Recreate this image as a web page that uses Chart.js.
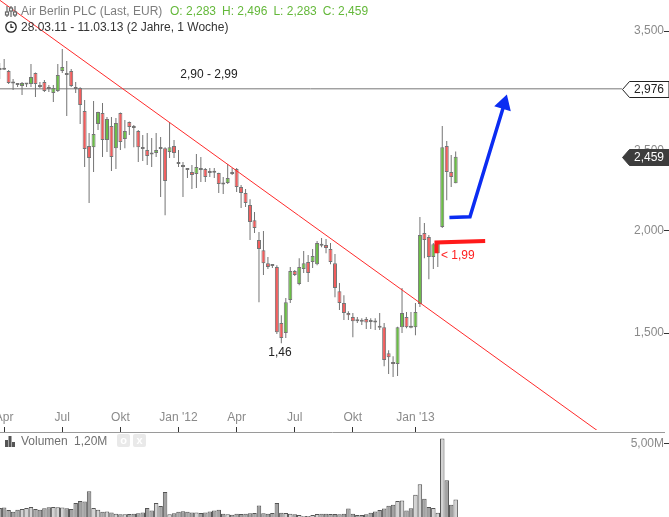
<!DOCTYPE html>
<html>
<head>
<meta charset="utf-8">
<title>Air Berlin PLC</title>
<script src="https://cdn.jsdelivr.net/npm/chart.js@4.4.1/dist/chart.umd.min.js"></script>
<style>
  body { margin: 0; background: #fff; }
  #wrap { position: relative; width: 669px; height: 517px; overflow: hidden;
          font-family: "Liberation Sans", Arial, sans-serif; font-size: 12px; }
  #volumeChart { position: absolute; left: 0; top: 408px; }
  #priceChart { position: absolute; left: 0; top: 0; }
  .row { position: absolute; left: 0; height: 14px; line-height: 14px; white-space: nowrap; width: 669px; }
  .row svg { position: absolute; left: 0; top: 0; }
  .row span { position: absolute; }
  .ohlc b { font-weight: normal; margin-right: 6px; }
  .btn { width: 13px; height: 13px; top: 0; border-radius: 2px; background: #e9e9e9; color: #fff;
         font-size: 11px; line-height: 13px; text-align: center; font-weight: bold; }
</style>
</head>
<body>
<div id="wrap">
  <canvas id="volumeChart" width="669" height="109"></canvas>
  <canvas id="priceChart" width="669" height="430"></canvas>

  <div class="row" style="top:4px">
    <svg width="18" height="14" viewBox="0 0 18 14">
      <g stroke="#666" stroke-width="1.2" fill="#fff">
        <line x1="7" y1="2" x2="7" y2="13"/><line x1="11" y1="2" x2="11" y2="13"/><line x1="15" y1="2" x2="15" y2="13"/>
        <rect x="5.5" y="8" width="3" height="3"/><rect x="9.5" y="4" width="3" height="3"/><rect x="13.5" y="8" width="3" height="3"/>
      </g>
    </svg>
    <span style="left:21px;color:#7d7d7d">Air Berlin PLC (Last, EUR)</span>
    <span id="ohlc" class="ohlc" style="left:170px;color:#64b83a"></span>
  </div>
  <div class="row" style="top:20px">
    <svg width="18" height="14" viewBox="0 0 18 14">
      <circle cx="11" cy="7" r="5.2" fill="none" stroke="#222" stroke-width="1.3"/>
      <path d="M11 4 V7.3 H13.5" fill="none" stroke="#222" stroke-width="1.2"/>
    </svg>
    <span style="left:21px;color:#333">28.03.11 - 11.03.13 (2 Jahre, 1 Woche)</span>
  </div>
  <div class="row" style="top:434px">
    <svg width="18" height="14" viewBox="0 0 18 14">
      <g fill="#555"><rect x="5" y="6" width="3" height="7"/><rect x="8.5" y="2" width="3" height="11"/><rect x="12" y="8" width="3" height="5"/></g>
    </svg>
    <span style="left:21px;color:#707070">Volumen</span>
    <span id="lastVolume" style="left:74px;color:#707070"></span>
    <span class="btn" style="left:117px">o</span>
    <span class="btn" style="left:133px">x</span>
  </div>
</div>

<script>
Chart.defaults.font.family = '"Liberation Sans", Arial, sans-serif';
Chart.defaults.font.size = 12;

// weekly candles 28.03.11 - 11.03.13, index 0 = week of 28.03.11
const opens = [3.155,3.150,3.128,3.033,3.016,3.000,3.012,3.016,3.111,2.995,
    3.033,2.983,2.941,2.957,3.128,3.111,3.128,2.991,2.983,2.796,
    2.535,2.527,2.696,2.781,2.578,2.681,2.520,2.781,2.585,2.711,
    2.673,2.644,2.527,2.506,2.485,2.485,2.520,2.520,2.492,2.535,
    2.424,2.403,2.377,2.357,2.344,2.383,2.377,2.357,2.357,2.350,
    2.285,2.285,2.350,2.377,2.259,2.222,2.148,2.059,1.947,1.893,
    1.825,1.815,1.805,1.543,1.500,1.646,1.785,1.721,1.795,1.831,
    1.831,1.820,1.925,1.920,1.899,1.825,1.687,1.632,1.587,1.569,
    1.558,1.556,1.560,1.551,1.551,1.530,1.525,1.418,1.383,1.375,
    1.525,1.569,1.530,1.525,1.627,1.986,1.964,1.857,1.877,2.020,
    2.535,2.357,2.283];
const highs = [3.199,3.235,3.137,3.059,3.025,3.033,3.025,3.190,3.115,3.033,
    3.050,3.008,3.008,3.190,3.328,3.218,3.146,3.033,2.990,2.884,
    2.629,2.876,2.790,2.860,2.750,2.750,2.742,2.785,2.727,2.715,
    2.689,2.651,2.614,2.629,2.592,2.629,2.600,2.527,2.711,2.578,
    2.506,2.424,2.383,2.403,2.478,2.458,2.383,2.383,2.383,2.352,
    2.324,2.410,2.383,2.383,2.272,2.247,2.184,2.106,1.992,1.997,
    1.857,1.820,1.815,1.577,1.655,1.805,1.790,1.851,1.888,1.867,
    1.899,1.942,1.958,1.953,1.931,1.872,1.726,1.668,1.595,1.587,
    1.569,1.564,1.569,1.564,1.564,1.587,1.543,1.430,1.406,1.527,
    1.702,1.591,1.591,1.632,2.077,2.042,1.975,1.931,1.942,2.681,
    2.571,2.472,2.496];
const lows = [3.059,3.137,3.016,2.966,2.991,2.925,2.991,2.991,2.908,2.983,
    2.949,2.949,2.868,2.949,3.111,2.757,2.991,2.941,2.696,2.390,
    2.160,2.357,2.651,2.458,2.492,2.364,2.377,2.506,2.520,2.614,
    2.527,2.424,2.430,2.403,2.390,2.458,2.197,2.088,2.451,2.451,
    2.390,2.197,2.317,2.247,2.253,2.291,2.291,2.324,2.317,2.222,
    2.215,2.278,2.337,2.228,2.130,2.136,1.947,1.986,1.636,1.765,
    1.795,1.800,1.496,1.458,1.479,1.632,1.760,1.716,1.775,1.731,
    1.800,1.815,1.909,1.877,1.820,1.659,1.600,1.556,1.556,1.483,
    1.543,1.534,1.517,1.517,1.513,1.513,1.367,1.337,1.326,1.330,
    1.500,1.521,1.521,1.491,1.614,1.851,1.745,1.795,1.805,2.014,
    2.178,2.259,2.283];
const closes = [3.137,3.140,3.025,3.021,3.008,3.025,3.016,3.076,3.016,2.991,
    2.957,2.974,2.983,3.093,3.164,3.093,3.000,2.974,2.844,2.513,
    2.451,2.622,2.788,2.578,2.734,2.458,2.704,2.563,2.644,2.673,
    2.666,2.527,2.513,2.465,2.475,2.506,2.513,2.298,2.527,2.485,
    2.410,2.390,2.370,2.337,2.390,2.370,2.324,2.350,2.352,2.278,
    2.275,2.317,2.344,2.259,2.222,2.160,2.048,2.014,1.899,1.825,
    1.805,1.810,1.504,1.479,1.636,1.785,1.765,1.805,1.825,1.775,
    1.862,1.931,1.917,1.904,1.831,1.702,1.632,1.587,1.577,1.551,
    1.551,1.549,1.545,1.547,1.545,1.523,1.391,1.402,1.375,1.525,
    1.587,1.525,1.523,1.591,1.975,1.947,1.857,1.925,1.936,2.527,
    2.357,2.324,2.459];
// weekly volume in millions
const volumes = [0.62,0.64,0.47,0.35,0.50,0.55,0.62,0.69,0.55,0.50,
    0.60,0.66,0.69,0.66,0.64,0.60,0.55,0.96,1.09,1.05,
    1.75,0.62,0.50,0.35,0.38,0.30,0.22,0.18,0.18,0.20,
    0.22,0.25,0.30,0.62,0.45,0.96,0.75,1.71,0.18,0.25,
    0.35,0.40,0.35,0.30,0.30,0.28,0.30,0.38,0.45,0.50,
    0.22,0.18,0.15,0.22,0.20,0.22,0.25,0.28,0.78,0.25,
    0.22,0.28,0.96,0.29,0.27,0.22,0.18,0.13,0.07,0.07,
    0.13,0.20,0.22,0.22,0.20,0.20,0.18,0.22,0.58,0.22,
    0.13,0.13,0.18,0.29,0.38,0.47,0.58,0.76,0.84,1.09,
    1.13,0.45,0.60,1.51,2.24,1.24,0.69,0.62,0.29,5.36,
    2.51,0.84,1.20];

const monthTicks = [1, 14, 27, 40, 53, 66, 79, 93];
const monthLabels = ['Apr', 'Jul', 'Okt', "Jan '12", 'Apr', 'Jul', 'Okt', "Jan '13"];
const priceTicks = [1.5, 2.0, 2.5, 3.5];
const volumeTicks = [5];

// drawings on the chart, in week index / price units
const resistance = 2.976;
const rangeLabel = '2,90 - 2,99';
const trendLine = [{x: -2, y: 3.886}, {x: 136, y: 1.1175}];
const supportMark = [{x: 97.7, y: 1.877}, {x: 97.7, y: 1.934}, {x: 108.6, y: 1.942}];
const targetArrow = [{x: 100.6, y: 2.074}, {x: 105.2, y: 2.079}, {x: 112.6, y: 2.82}];
const arrowHead = [{x: 112.8, y: 2.852}];

const xMin = 0.07, xMax = 148.6;
const upColor = '#6abd45', downColor = '#f25c5c', wickColor = '#747474';
const last = closes.length - 1;

function fmt(v, d)
{
    return v.toFixed(d).replace('.', ',');
}

function noPadding(scale)
{
    scale.paddingTop = 0;
    scale.paddingBottom = 0;
    scale.paddingLeft = 0;
    scale.paddingRight = 0;
}

function drawTag(ctx, chart, value, fill, stroke, textColor)
{
    const y = Math.round(chart.scales.y.getPixelForValue(value)) + 0.5;
    const right = chart.width;
    ctx.beginPath();
    ctx.moveTo(622.5, y);
    ctx.lineTo(629.5, y - 8);
    ctx.lineTo(right, y - 8);
    ctx.lineTo(right, y + 8);
    ctx.lineTo(629.5, y + 8);
    ctx.closePath();
    ctx.fillStyle = fill;
    ctx.fill();
    ctx.strokeStyle = stroke;
    ctx.lineWidth = 1;
    ctx.stroke();
    ctx.fillStyle = textColor;
    ctx.textAlign = 'right';
    ctx.textBaseline = 'middle';
    ctx.fillText(fmt(value, 3), 664, y);
}

const notesPlugin = {
    id: 'notes',
    afterDatasetsDraw(chart) {
        const ctx = chart.ctx;
        const xs = chart.scales.x;
        const ys = chart.scales.y;
        ctx.save();
        ctx.font = '12px "Liberation Sans", Arial, sans-serif';
        ctx.textBaseline = 'middle';
        ctx.textAlign = 'center';
        ctx.fillStyle = '#222';
        ctx.fillText(rangeLabel, xs.getPixelForValue(46.8), ys.getPixelForValue(resistance) - 14);
        ctx.fillText(fmt(lows[63], 2), xs.getPixelForValue(62.7), ys.getPixelForValue(lows[63]) + 9);
        ctx.textAlign = 'left';
        ctx.fillStyle = '#ff2020';
        ctx.fillText('< 1,99', xs.getPixelForValue(98.7), ys.getPixelForValue(1.864));
        drawTag(ctx, chart, resistance, '#fff', '#222', '#222');
        drawTag(ctx, chart, closes[last], '#3d3d3d', '#3d3d3d', '#fff');
        ctx.restore();
    }
};

function showPriceChart()
{
    const bodies = opens.map((o, i) => ({x: i, y: [o, closes[i]]}));
    const wicks = lows.map((l, i) => ({x: i, y: [l, highs[i]]}));
    const bodyColors = opens.map((o, i) => closes[i] >= o ? upColor : downColor);

    new Chart(document.getElementById('priceChart'), {
        type: 'bar',
        data: {
            datasets: [{
                type: 'line', data: targetArrow, borderColor: '#0b2cf2', borderWidth: 3.5,
                borderJoinStyle: 'miter', pointRadius: 0, order: 0
            }, {
                type: 'line', data: arrowHead, showLine: false, pointStyle: 'triangle',
                pointRadius: 10, pointRotation: 17, pointBackgroundColor: '#0b2cf2',
                pointBorderWidth: 0, order: 0
            }, {
                type: 'line', data: supportMark, borderColor: '#ff1a1a', borderWidth: 4,
                borderJoinStyle: 'miter', pointRadius: 0, order: 0
            }, {
                type: 'line', data: trendLine, borderColor: '#ff2a2a', borderWidth: 1,
                pointRadius: 0, order: 1
            }, {
                type: 'bar', data: bodies, backgroundColor: bodyColors, borderColor: wickColor,
                borderWidth: 1, borderSkipped: false, barThickness: 4, minBarLength: 2,
                inflateAmount: 0, grouped: false, order: 2
            }, {
                type: 'bar', data: wicks, backgroundColor: wickColor, borderWidth: 0,
                barThickness: 1, inflateAmount: 0, grouped: false, order: 3
            }, {
                type: 'line', data: [{x: -1, y: resistance}, {x: 139.2, y: resistance}],
                borderColor: '#777', borderWidth: 1, pointRadius: 0, order: 4
            }]
        },
        options: {
            responsive: false,
            animation: false,
            layout: { padding: 0, autoPadding: false },
            plugins: { legend: { display: false }, tooltip: { enabled: false } },
            scales: {
                x: {
                    type: 'linear', min: xMin, max: xMax, offset: false, display: false,
                    grid: { offset: false }
                },
                y: {
                    type: 'logarithmic', position: 'right', min: 1.143, max: 3.818,
                    afterBuildTicks: s => { s.ticks = priceTicks.map(v => ({value: v})); },
                    afterFit: noPadding,
                    ticks: {
                        mirror: true, padding: 0, color: '#8a8a8a',
                        callback: v => fmt(v, 3)
                    },
                    grid: { drawOnChartArea: false, drawTicks: true, tickLength: 5, color: '#333' },
                    border: { display: false }
                }
            }
        },
        plugins: [notesPlugin]
    });
}

function showVolumeChart()
{
    const bars = volumes.map((v, i) => ({x: i, y: v}));
    const barColors = opens.map((o, i) => closes[i] >= o ? '#d2d2d2' : '#a2a2a2');

    new Chart(document.getElementById('volumeChart'), {
        type: 'bar',
        data: {
            datasets: [{
                data: bars, backgroundColor: barColors, borderColor: '#555',
                borderWidth: 1, barThickness: 4.47, inflateAmount: 0
            }]
        },
        options: {
            responsive: false,
            animation: false,
            layout: { padding: 0, autoPadding: false },
            plugins: { legend: { display: false }, tooltip: { enabled: false } },
            scales: {
                x: {
                    type: 'linear', position: 'top', min: xMin, max: xMax, offset: false,
                    afterBuildTicks: s => { s.ticks = monthTicks.map(v => ({value: v})); },
                    afterFit: noPadding,
                    ticks: {
                        autoSkip: false, maxRotation: 0, padding: 2, color: '#8a8a8a',
                        font: { size: 12, lineHeight: 1.25 },
                        callback: v => monthLabels[monthTicks.indexOf(v)]
                    },
                    grid: { drawOnChartArea: false, tickLength: 5, color: '#333', offset: false },
                    border: { color: '#9a9a9a' }
                },
                y: {
                    type: 'linear', position: 'right', min: 0, max: 5.8,
                    afterBuildTicks: s => { s.ticks = volumeTicks.map(v => ({value: v})); },
                    afterFit: noPadding,
                    ticks: {
                        mirror: true, padding: 0, color: '#8a8a8a',
                        callback: v => fmt(v, 2) + 'M'
                    },
                    grid: { drawOnChartArea: false, drawTicks: true, tickLength: 5, color: '#333' },
                    border: { display: false }
                }
            }
        }
    });
}

document.getElementById('ohlc').innerHTML =
    '<b>O: ' + fmt(opens[last], 3) + '</b><b>H: ' + fmt(highs[last], 3) +
    '</b><b>L: ' + fmt(lows[last], 3) + '</b><b>C: ' + fmt(closes[last], 3) + '</b>';
document.getElementById('lastVolume').textContent = fmt(volumes[last], 2) + 'M';

showVolumeChart();
showPriceChart();
</script>
</body>
</html>
